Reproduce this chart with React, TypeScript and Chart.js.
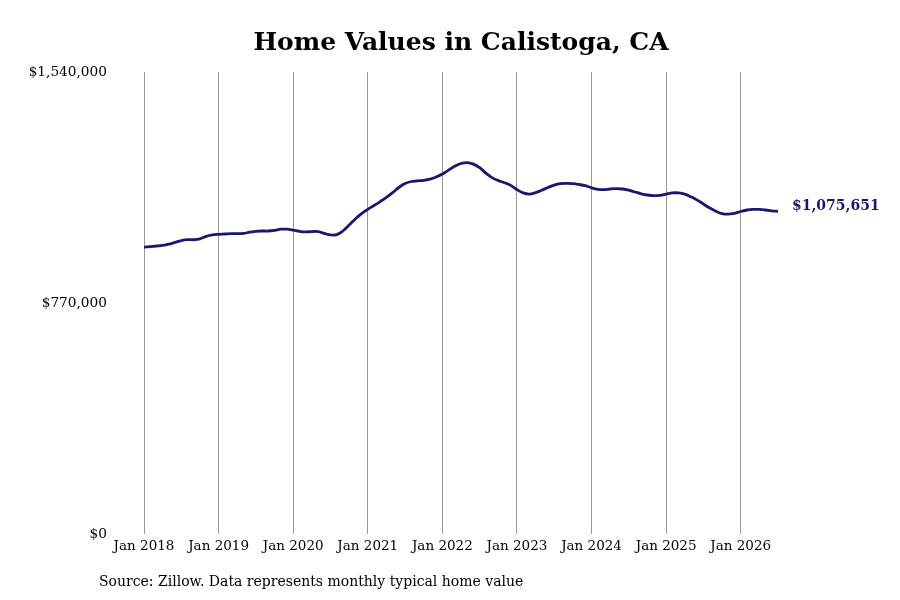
import { useEffect, useRef } from "react";
import { Chart, registerables } from "chart.js";

Chart.register(...registerables);

// monthly typical home value, Jan 2018 onwards
const HOME_VALUES = [
  956000, 958000, 960000, 962000, 966000, 972000, 978000, 981000, 981000, 984000, 992000, 997000,
  999000, 1000000, 1001000, 1001000, 1002000, 1006000, 1009000, 1010000, 1010000, 1012000, 1016000, 1016000,
  1013000, 1009000, 1007000, 1008000, 1008000, 1002000, 997000, 998000, 1010000, 1030000, 1050000, 1068000,
  1082000, 1095000, 1108000, 1122000, 1138000, 1155000, 1168000, 1175000, 1177000, 1179000, 1183000, 1190000,
  1200000, 1213000, 1226000, 1235000, 1238000, 1233000, 1221000, 1203000, 1188000, 1178000, 1171000, 1162000,
  1148000, 1137000, 1133000, 1138000, 1146000, 1155000, 1163000, 1168000, 1169000, 1168000, 1165000, 1161000,
  1154000, 1149000, 1148000, 1150000, 1151000, 1150000, 1146000, 1140000, 1134000, 1130000, 1128000, 1129000,
  1133000, 1137000, 1137000, 1133000, 1124000, 1113000, 1100000, 1087000, 1076000, 1068000, 1066000, 1069000,
  1075000, 1080000, 1082000, 1082000, 1080000, 1077000, 1075651,
];

const X_TICK_LABELS = [
  "Jan 2018", "Jan 2019", "Jan 2020", "Jan 2021", "Jan 2022",
  "Jan 2023", "Jan 2024", "Jan 2025", "Jan 2026",
];
const Y_TICKS = [0, 770000, 1540000];

const TITLE = "Home Values in Calistoga, CA";
const SOURCE = "Source: Zillow. Data represents monthly typical home value";
const FONT = "'DejaVu Serif', serif";
const LINE_COLOR = "#18186e";

const money = (v: number) => "$" + Math.round(v).toLocaleString("en-US");

const extrasPlugin = {
  id: "extras",
  afterDraw(chart: Chart) {
    const { ctx, chartArea } = chart;
    ctx.save();
    // title
    ctx.fillStyle = "#000";
    ctx.font = `bold 25px ${FONT}`;
    ctx.textAlign = "center";
    ctx.textBaseline = "middle";
    ctx.fillText(TITLE, (chartArea.left + chartArea.right) / 2, 43);

    // end value label
    const meta = chart.getDatasetMeta(0);
    const last = meta.data[meta.data.length - 1];
    ctx.fillStyle = LINE_COLOR;
    ctx.font = `bold 14px ${FONT}`;
    ctx.textAlign = "left";
    ctx.fillText(money(HOME_VALUES[HOME_VALUES.length - 1]), last.x + 14, last.y - 5);

    // source note
    ctx.fillStyle = "#000";
    ctx.font = `14px ${FONT}`;
    ctx.fillText(SOURCE, 99, 582);
    ctx.restore();
  },
};

export default function App() {
  const canvasRef = useRef<HTMLCanvasElement>(null);
  const chartRef = useRef<Chart | null>(null);

  useEffect(() => {
    if (!canvasRef.current) return;
    chartRef.current?.destroy();

    chartRef.current = new Chart(canvasRef.current, {
      type: "line",
      data: {
        datasets: [{
          data: HOME_VALUES.map((v, i) => ({ x: i, y: v })),
          borderColor: LINE_COLOR,
          borderWidth: 2.8,
          pointRadius: 0,
          tension: 0.4,
          fill: false,
        }],
      },
      options: {
        responsive: false,
        animation: false,
        layout: { padding: { top: 72, right: 122, bottom: 0, left: 0 } },
        plugins: {
          legend: { display: false },
          tooltip: { enabled: false },
        },
        scales: {
          x: {
            type: "linear",
            min: 0,
            max: HOME_VALUES.length - 1,
            afterBuildTicks: s => { s.ticks = X_TICK_LABELS.map((_, i) => ({ value: i * 12 })); },
            afterFit: s => { s.height = 66; },
            grid: { color: "#999", lineWidth: 1, drawTicks: false },
            border: { display: false },
            ticks: {
              padding: 4,
              color: "#000",
              font: { family: FONT, size: 13.5 },
              callback: v => X_TICK_LABELS[Math.round(Number(v) / 12)],
            },
          },
          y: {
            min: 0,
            max: Y_TICKS[Y_TICKS.length - 1],
            afterBuildTicks: s => { s.ticks = Y_TICKS.map(v => ({ value: v })); },
            afterFit: s => { s.width = 144; },
            grid: { display: false, drawTicks: false },
            border: { display: false },
            ticks: {
              padding: 37,
              color: "#000",
              font: { family: FONT, size: 13.7 },
              callback: v => money(Number(v)),
            },
          },
        },
      },
      plugins: [extrasPlugin],
    });

    return () => { chartRef.current?.destroy(); };
  }, []);

  return (
    <div style={{ position: "absolute", left: 0, top: 0, width: 900, height: 600, background: "#fff" }}>
      <canvas ref={canvasRef} width={900} height={600} />
    </div>
  );
}
